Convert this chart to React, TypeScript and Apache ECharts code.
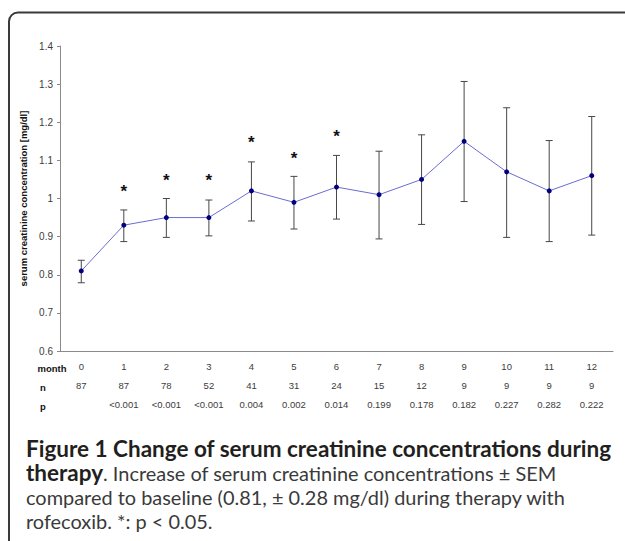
import React, { useEffect, useRef } from "react";
import * as echarts from "echarts";

const months = ["0", "1", "2", "3", "4", "5", "6", "7", "8", "9", "10", "11", "12"];
const nValues = ["87", "87", "78", "52", "41", "31", "24", "15", "12", "9", "9", "9", "9"];
const pValues = ["", "<0.001", "<0.001", "<0.001", "0.004", "0.002", "0.014", "0.199", "0.178", "0.182", "0.227", "0.282", "0.222"];
const meanValues = [0.81, 0.93, 0.95, 0.95, 1.02, 0.99, 1.03, 1.01, 1.05, 1.15, 1.07, 1.02, 1.06];
const upperValues = [0.838, 0.97, 1.0, 0.996, 1.096, 1.058, 1.113, 1.124, 1.167, 1.307, 1.238, 1.152, 1.215];
const lowerValues = [0.779, 0.887, 0.898, 0.902, 0.941, 0.92, 0.946, 0.894, 0.932, 0.992, 0.898, 0.887, 0.904];
const starValues: (number | null)[] = [null, 1.027, 1.056, 1.056, 1.156, 1.113, 1.17, null, null, null, null, null, null];

const yTitle = "serum creatinine concentration [mg/dl]";
const captionBold1 = "Figure 1 Change of serum creatinine concentrations during";
const captionBold2 = "therapy";
const captionLine2 = ". Increase of serum creatinine concentrations \u00b1 SEM";
const captionLine3 = "compared to baseline (0.81, \u00b1 0.28 mg/dl) during therapy with";
const captionLine4 = "rofecoxib. *: p < 0.05.";

const CAP_FONT = 'Lato, "Open Sans", sans-serif';
const AX_FONT = '"Liberation Sans", Arial, sans-serif';

function measure(text: string, weight: string, size: number) {
  const c = document.createElement("canvas");
  const ctx = c.getContext("2d")!;
  ctx.font = `${weight} ${size}px ${CAP_FONT}`;
  return ctx.measureText(text).width;
}

export default function App() {
  const ref = useRef<HTMLDivElement>(null);
  useEffect(() => {
    const chart = echarts.init(ref.current!, null, { renderer: "svg" });
    const fsBold = (100 * 586) / measure(captionBold1, "bold", 100);
    const fsReg = (100 * 540) / measure(captionLine3, "normal", 100);
    const capColor = "#3a3a3a";

    const option: any = {
      animation: false,
      backgroundColor: "#ffffff",
      grid: { left: 60, right: 12, top: 46, bottom: 190, containLabel: false },
      xAxis: {
        type: "category",
        data: months,
        boundaryGap: true,
        axisLine: { lineStyle: { color: "#8a8a8a", width: 1 } },
        axisTick: { length: 3, lineStyle: { color: "#8a8a8a" } },
        axisLabel: {
          interval: 0,
          margin: 6,
          formatter: (v: string, i: number) =>
            `{m|${months[i]}}\n{n|${nValues[i]}}\n{p|${pValues[i] || " "}}`,
          rich: {
            m: { fontSize: 9.5, lineHeight: 19, color: "#3c3c3c", fontFamily: AX_FONT },
            n: { fontSize: 9.5, lineHeight: 19, color: "#3c3c3c", fontFamily: AX_FONT },
            p: { fontSize: 9.5, lineHeight: 19, color: "#3c3c3c", fontFamily: AX_FONT },
          },
        },
        splitLine: { show: false },
      },
      yAxis: {
        type: "value",
        min: 0.6,
        max: 1.4,
        interval: 0.1,
        name: yTitle,
        nameLocation: "middle",
        nameGap: 22,
        nameTextStyle: { fontSize: 9.5, fontWeight: "bold", color: "#111", fontFamily: AX_FONT },
        axisLine: { show: true, lineStyle: { color: "#8a8a8a", width: 1 } },
        axisTick: { show: true, length: 3, lineStyle: { color: "#8a8a8a" } },
        axisLabel: { fontSize: 10, color: "#3c3c3c", margin: 7, fontFamily: AX_FONT },
        splitLine: { show: false },
      },
      series: [
        {
          type: "custom",
          z: 2,
          renderItem: (params: any, api: any) => {
            const x = api.value(0);
            const top = api.coord([x, api.value(1)]);
            const bot = api.coord([x, api.value(2)]);
            const w = 3.5;
            const st = { stroke: "#474747", lineWidth: 1 };
            return {
              type: "group",
              children: [
                { type: "line", shape: { x1: top[0], y1: top[1], x2: bot[0], y2: bot[1] }, style: st },
                { type: "line", shape: { x1: top[0] - w, y1: top[1], x2: top[0] + w, y2: top[1] }, style: st },
                { type: "line", shape: { x1: bot[0] - w, y1: bot[1], x2: bot[0] + w, y2: bot[1] }, style: st },
              ],
            };
          },
          encode: { x: 0, y: [1, 2] },
          data: months.map((m, i) => [i, upperValues[i], lowerValues[i]]),
        },
        {
          type: "line",
          z: 3,
          data: meanValues,
          symbol: "circle",
          symbolSize: 5,
          itemStyle: { color: "#000080" },
          lineStyle: { color: "#6b6bd0", width: 1 },
        },
        {
          type: "custom",
          z: 4,
          renderItem: (params: any, api: any) => {
            const p = api.coord([api.value(0), api.value(1)]);
            return {
              type: "text",
              x: p[0],
              y: p[1] + 3,
              style: {
                text: "*",
                fill: "#111",
                fontSize: 17,
                fontWeight: "bold",
                fontFamily: AX_FONT,
                align: "center",
                verticalAlign: "middle",
              },
            };
          },
          encode: { x: 0, y: 1 },
          data: starValues
            .map((v, i) => (v == null ? null : [i, v]))
            .filter((d) => d !== null),
        },
      ],
      graphic: [
        {
          type: "rect",
          shape: { x: 9, y: 12.5, width: 700, height: 600, r: 9 },
          style: { fill: "none", stroke: "#3a3a3a", lineWidth: 2 },
          silent: true,
        },
        {
          type: "text",
          x: 52,
          y: 368,
          style: { text: "month", fontSize: 9.5, fontWeight: "bold", fill: "#111", fontFamily: AX_FONT, align: "center", verticalAlign: "middle" },
        },
        {
          type: "text",
          x: 43,
          y: 387,
          style: { text: "n", fontSize: 9.5, fontWeight: "bold", fill: "#111", fontFamily: AX_FONT, align: "center", verticalAlign: "middle" },
        },
        {
          type: "text",
          x: 43,
          y: 406,
          style: { text: "p", fontSize: 9.5, fontWeight: "bold", fill: "#111", fontFamily: AX_FONT, align: "center", verticalAlign: "middle" },
        },
        {
          type: "text",
          x: 26,
          y: 448,
          style: { text: captionBold1, fontSize: fsBold, fontWeight: "bold", fill: "#231f20", fontFamily: CAP_FONT, align: "left", verticalAlign: "middle" },
        },
        {
          type: "text",
          x: 26,
          y: 472.5,
          style: {
            text: `{b|${captionBold2}}{r|${captionLine2}}`,
            align: "left",
            verticalAlign: "middle",
            rich: {
              b: { fontSize: fsBold, fontWeight: "bold", fill: "#231f20", color: "#231f20", fontFamily: CAP_FONT },
              r: { fontSize: fsReg, fontWeight: "normal", fill: capColor, color: capColor, fontFamily: CAP_FONT },
            },
          },
        },
        {
          type: "text",
          x: 26,
          y: 497,
          style: { text: captionLine3, fontSize: fsReg, fill: capColor, fontFamily: CAP_FONT, align: "left", verticalAlign: "middle" },
        },
        {
          type: "text",
          x: 26,
          y: 521,
          style: { text: captionLine4, fontSize: fsReg, fill: capColor, fontFamily: CAP_FONT, align: "left", verticalAlign: "middle" },
        },
      ],
    };
    chart.setOption(option);
    return () => chart.dispose();
  }, []);
  return <div ref={ref} style={{ position: "absolute", left: 0, top: 0, width: 625, height: 541 }} />;
}
